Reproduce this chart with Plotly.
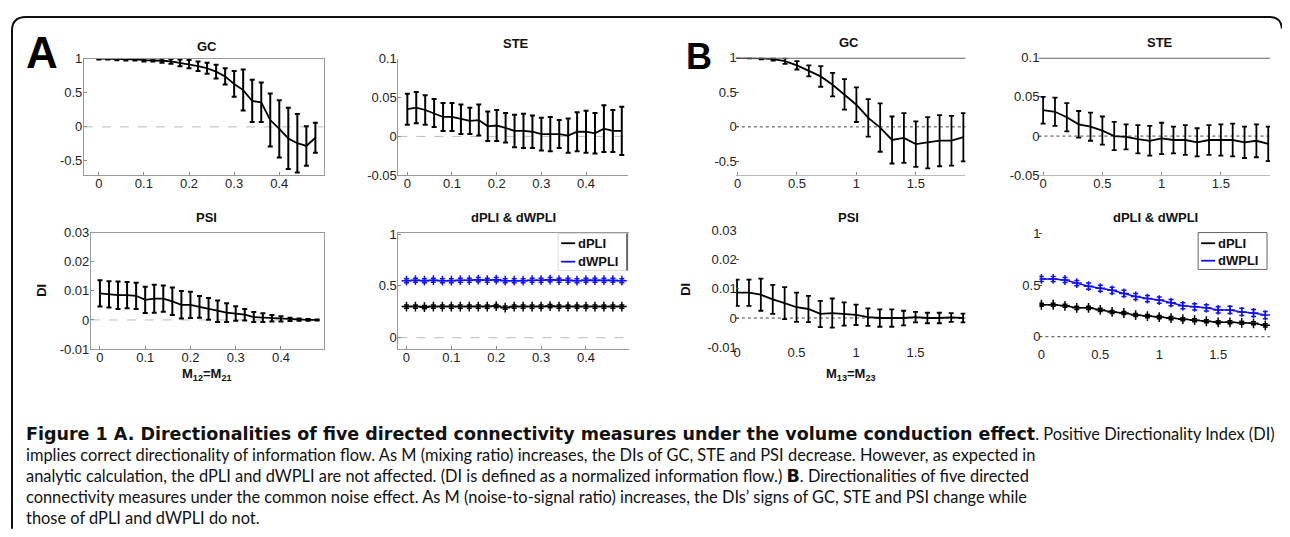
import plotly.graph_objects as go

# ---------------- data ----------------
xA = [0, 0.02, 0.04, 0.06, 0.08, 0.10, 0.12, 0.14, 0.16, 0.18, 0.20, 0.22, 0.24,
      0.26, 0.28, 0.30, 0.32, 0.34, 0.36, 0.38, 0.40, 0.42, 0.44, 0.46, 0.48]
xB = [0, 0.1, 0.2, 0.3, 0.4, 0.5, 0.6, 0.7, 0.8, 0.9, 1.0, 1.1, 1.2, 1.3, 1.4,
      1.5, 1.6, 1.7, 1.8, 1.9]

gcA = [1.0, 1.0, 0.99, 0.99, 0.99, 0.98, 0.98, 0.97, 0.96, 0.94, 0.92, 0.89, 0.86,
       0.81, 0.74, 0.63, 0.54, 0.38, 0.36, 0.10, -0.03, -0.17, -0.24, -0.28, -0.16]
gcA_err = [0.01, 0.01, 0.012, 0.015, 0.015, 0.02, 0.02, 0.03, 0.035, 0.05, 0.06, 0.07,
           0.08, 0.10, 0.12, 0.19, 0.30, 0.31, 0.29, 0.39, 0.42, 0.45, 0.43, 0.29, 0.22]

steA = [0.035, 0.037, 0.034, 0.030, 0.025, 0.025, 0.022, 0.020, 0.021, 0.013, 0.014,
        0.011, 0.007, 0.007, 0.006, 0.003, 0.003, 0.003, 0.001, 0.006, 0.006, 0.004,
        0.010, 0.007, 0.007]
steA_err = [0.020, 0.020, 0.019, 0.018, 0.018, 0.018, 0.019, 0.017, 0.020, 0.019, 0.020,
            0.019, 0.021, 0.022, 0.021, 0.021, 0.022, 0.018, 0.022, 0.025, 0.027, 0.026,
            0.030, 0.027, 0.031]

psiA = [0.0091, 0.0088, 0.0085, 0.0085, 0.0083, 0.0069, 0.0073, 0.0073, 0.0064, 0.0052,
        0.0052, 0.0045, 0.0038, 0.0030, 0.0025, 0.0022, 0.0018, 0.0010, 0.0008, 0.0006,
        0.0004, 0.0002, 0.0001, 0.0, 0.0]
psiA_err = [0.0045, 0.0045, 0.0047, 0.0045, 0.0045, 0.0045, 0.0048, 0.0045, 0.0047,
            0.0047, 0.0045, 0.0037, 0.0037, 0.0037, 0.0032, 0.0025, 0.0020, 0.0017,
            0.0015, 0.0011, 0.0009, 0.0006, 0.0004, 0.0003, 0.0002]

dpliA = [0.30, 0.30, 0.295, 0.30, 0.30, 0.30, 0.30, 0.30, 0.30, 0.30, 0.305, 0.29, 0.30,
         0.30, 0.30, 0.30, 0.305, 0.30, 0.30, 0.30, 0.30, 0.30, 0.30, 0.30, 0.30]
dpliA_err = [0.015] * 25
dwpliA = [0.55, 0.555, 0.55, 0.555, 0.55, 0.55, 0.555, 0.555, 0.56, 0.555, 0.56, 0.55,
          0.55, 0.55, 0.555, 0.555, 0.56, 0.555, 0.555, 0.55, 0.555, 0.555, 0.555,
          0.555, 0.55]
dwpliA_err = [0.02] * 25

gcB = [1.0, 1.0, 0.99, 0.98, 0.95, 0.89, 0.81, 0.73, 0.61, 0.47, 0.32, 0.13, -0.01,
       -0.19, -0.16, -0.25, -0.23, -0.20, -0.20, -0.15]
gcB_err = [0.005, 0.01, 0.015, 0.02, 0.04, 0.06, 0.08, 0.15, 0.17, 0.22, 0.25, 0.27,
           0.35, 0.34, 0.36, 0.33, 0.37, 0.37, 0.36, 0.35]

steB = [0.033, 0.031, 0.024, 0.015, 0.012, 0.007, 0.000, -0.001, -0.004, -0.006, -0.003,
        -0.005, -0.005, -0.008, -0.005, -0.005, -0.005, -0.008, -0.006, -0.010]
steB_err = [0.017, 0.018, 0.018, 0.017, 0.018, 0.018, 0.018, 0.016, 0.018, 0.019, 0.020,
            0.017, 0.019, 0.018, 0.019, 0.020, 0.021, 0.020, 0.021, 0.022]

psiB = [0.0087, 0.0087, 0.0080, 0.0064, 0.0051, 0.0037, 0.0031, 0.0014, 0.0017, 0.0014,
        0.0011, 0.0003, 0.0, 0.0, 0.0, 0.0003, 0.0, 0.0, 0.0002, 0.0]
psiB_err = [0.0045, 0.0045, 0.0055, 0.0050, 0.0055, 0.0050, 0.0045, 0.0045, 0.0050,
            0.0040, 0.0035, 0.0030, 0.0030, 0.0030, 0.0025, 0.0018, 0.0018, 0.0018,
            0.0015, 0.0015]

dpliB = [0.31, 0.31, 0.30, 0.28, 0.28, 0.26, 0.24, 0.23, 0.21, 0.20, 0.19, 0.18, 0.17,
         0.16, 0.15, 0.14, 0.14, 0.135, 0.13, 0.11]
dpliB_err = [0.015] * 20
dwpliB = [0.56, 0.56, 0.55, 0.52, 0.49, 0.47, 0.45, 0.42, 0.39, 0.37, 0.355, 0.33, 0.30,
          0.29, 0.28, 0.26, 0.26, 0.24, 0.23, 0.21]
dwpliB_err = [0.025, 0.025, 0.025, 0.025, 0.03, 0.03, 0.03, 0.03, 0.03, 0.03, 0.03, 0.03,
              0.03, 0.03, 0.03, 0.03, 0.035, 0.035, 0.035, 0.035]

xticksA = [0, 0.1, 0.2, 0.3, 0.4]
xticksA_text = ["0", "0.1", "0.2", "0.3", "0.4"]
xticksB = [0, 0.5, 1, 1.5]
xticksB_text = ["0", "0.5", "1", "1.5"]
yticks_gc = [-0.5, 0, 0.5, 1]
yticks_gc_text = ["-0.5", "0", "0.5", "1"]
yticks_ste = [-0.05, 0, 0.05, 0.1]
yticks_ste_text = ["-0.05", "0", "0.05", "0.1"]
yticks_psi = [-0.01, 0, 0.01, 0.02, 0.03]
yticks_psi_text = ["-0.01", "0", "0.01", "0.02", "0.03"]
yticks_pli = [0, 0.5, 1]
yticks_pli_text = ["0", "0.5", "1"]

# ---------------- layout helpers ----------------
# the page body has an 8px margin; the figure is sized so the page is exactly 1290x537
OFF = 8
W, H = 1290 - 2 * OFF, 537 - 2 * OFF
def PX(v): return (v - OFF) / W
def PY(v): return 1 - (v - OFF) / H
def sfx(i): return "" if i == 1 else str(i)

FONT = "Liberation Sans, Arial, sans-serif"
fig = go.Figure()

axes = [
    dict(dom=(82, 322, 53, 173), xr=(-0.033, 0.498), yr=(-0.71, 1.0),
         xt=(xticksA, xticksA_text), yt=(yticks_gc, yticks_gc_text), style="Abox"),
    dict(dom=(397, 627, 53, 173), xr=(-0.02, 0.494), yr=(-0.05, 0.1),
         xt=(xticksA, xticksA_text), yt=(yticks_ste, yticks_ste_text), style="Alb"),
    dict(dom=(89, 322, 232, 352), xr=(-0.02, 0.494), yr=(-0.01, 0.03),
         xt=(xticksA, xticksA_text), yt=(yticks_psi, yticks_psi_text), style="Abox"),
    dict(dom=(397, 628, 232, 352), xr=(-0.018, 0.496), yr=(-0.11, 1.015),
         xt=(xticksA, xticksA_text), yt=(yticks_pli, yticks_pli_text), style="Albt"),
    dict(dom=(735, 965, 52, 173), xr=(-0.014, 1.918), yr=(-0.70, 1.0),
         xt=(xticksB, xticksB_text), yt=(yticks_gc, yticks_gc_text), style="Btop"),
    dict(dom=(1038, 1270, 52, 173), xr=(-0.04, 1.915), yr=(-0.05, 0.1),
         xt=(xticksB, xticksB_text), yt=(yticks_ste, yticks_ste_text), style="Btop"),
    dict(dom=(735, 965, 230, 350), xr=(-0.01, 1.92), yr=(-0.01, 0.03),
         xt=(xticksB, xticksB_text), yt=(yticks_psi, yticks_psi_text), style="Bnone"),
    dict(dom=(1039, 1270, 232, 352), xr=(-0.017, 1.94), yr=(-0.12, 1.01),
         xt=(xticksB, xticksB_text), yt=(yticks_pli, yticks_pli_text), style="Bnone"),
]

shapes = []
for i, a in enumerate(axes, start=1):
    l, r, t, b = a["dom"]
    st = a["style"]
    s = sfx(i)
    xa = dict(domain=[PX(l), PX(r)], range=list(a["xr"]), anchor=f"y{s}",
              tickvals=a["xt"][0], ticktext=a["xt"][1], showgrid=False, zeroline=False,
              ticks="inside", ticklen=3, tickcolor="#888", ticklabelstandoff=-4,
              tickfont=dict(family=FONT, size=13, color="#222"), fixedrange=True)
    ya = dict(domain=[PY(b), PY(t)], range=list(a["yr"]), anchor=f"x{s}",
              tickvals=a["yt"][0], ticktext=a["yt"][1], showgrid=False, zeroline=False,
              ticks="inside", ticklen=3, tickcolor="#888", ticklabelstandoff=-2,
              tickfont=dict(family=FONT, size=13, color="#222"), fixedrange=True)
    if st == "Abox":
        xa.update(showline=True, linecolor="#999", linewidth=1, mirror=True)
        ya.update(showline=True, linecolor="#999", linewidth=1, mirror=True)
    elif st == "Alb":
        xa.update(showline=True, linecolor="#999", linewidth=1)
        ya.update(showline=True, linecolor="#999", linewidth=1)
    elif st == "Albt":
        xa.update(showline=True, linecolor="#999", linewidth=1, mirror=True)
        ya.update(showline=True, linecolor="#999", linewidth=1)
    elif st == "Btop":
        xa.update(showline=True, linecolor="#bbb", linewidth=1)
        ya.update(showline=False, ticks="inside", tickcolor="#555")
        shapes.append(dict(type="line", xref=f"x{s} domain", x0=0, x1=1,
                           yref=f"y{s}", y0=a["yr"][1], y1=a["yr"][1],
                           line=dict(color="#666", width=2)))
    else:
        xa.update(showline=False, ticks="")
        ya.update(showline=False, ticks="inside", tickcolor="#555")
    fig.layout[f"xaxis{s}"] = xa
    fig.layout[f"yaxis{s}"] = ya
    if st.startswith("A"):
        shapes.append(dict(type="line", xref=f"x{s} domain", x0=0, x1=1,
                           yref=f"y{s}", y0=0, y1=0,
                           line=dict(color="#bbb", width=1, dash="dash"), layer="below"))
    else:
        shapes.append(dict(type="line", xref=f"x{s} domain", x0=0, x1=1,
                           yref=f"y{s}", y0=0, y1=0,
                           line=dict(color="#444", width=1, dash="dot"), layer="below"))


def add_series(i, x, y, e, color="black", marker=False, thick=2.0, lw=1.8):
    s = sfx(i)
    fig.add_trace(go.Scatter(
        x=x, y=y, xaxis=f"x{s}", yaxis=f"y{s}",
        mode="lines+markers" if marker else "lines",
        line=dict(color=color, width=lw),
        marker=dict(symbol="cross-thin", size=7, line=dict(color=color, width=1.5)) if marker else None,
        error_y=dict(type="data", array=e, visible=True, color=color,
                     thickness=thick, width=2.5),
        showlegend=False, hoverinfo="skip"))


add_series(1, xA, gcA, gcA_err)
add_series(2, xA, steA, steA_err)
add_series(3, xA, psiA, psiA_err)
add_series(4, xA, dpliA, dpliA_err, "black", True, 1.5, 1.5)
add_series(4, xA, dwpliA, dwpliA_err, "#1010ff", True, 1.5, 1.5)
add_series(5, xB, gcB, gcB_err, thick=1.8)
add_series(6, xB, steB, steB_err, thick=1.8)
add_series(7, xB, psiB, psiB_err, thick=1.8)
add_series(8, xB, dpliB, dpliB_err, "black", True, 1.5, 1.5)
add_series(8, xB, dwpliB, dwpliB_err, "#1010ff", True, 1.5, 1.5)

ann = []
def text(x, y, s, size=13, xanchor="center", yanchor="middle", angle=0,
         family=FONT, color="#111"):
    ann.append(dict(x=PX(x), y=PY(y), xref="paper", yref="paper", text=s,
                    showarrow=False, xanchor=xanchor, yanchor=yanchor, textangle=angle,
                    font=dict(family=family, size=size, color=color)))

for (x, y, s) in [(205, 40, "GC"), (515, 37, "STE"), (205, 216, "PSI"),
                  (512, 216, "dPLI &amp; dWPLI"), (848, 36, "GC"), (1160, 36, "STE"),
                  (848, 216, "PSI"), (1155, 216, "dPLI &amp; dWPLI")]:
    text(x, y, f"<b>{s}</b>", size=13)

text(40, 47, "<b>A</b>", size=44, color="#000")
text(698, 51, "<b>B</b>", size=36, color="#000")

text(40, 291, "<b>DI</b>", size=13, angle=-90)
text(205, 378, "<b>M<sub>12</sub>=M<sub>21</sub></b>", size=13)
text(685, 290, "<b>DI</b>", size=13, angle=-90)
text(850, 378, "<b>M<sub>13</sub>=M<sub>23</sub></b>", size=13)

shapes.append(dict(type="rect", xref="paper", yref="paper", x0=PX(557), x1=PX(627),
                   y0=PY(271), y1=PY(233), line=dict(color="#ddd", width=1),
                   fillcolor="white"))
shapes.append(dict(type="line", xref="paper", yref="paper", x0=PX(626), x1=PX(626),
                   y0=PY(271), y1=PY(233), line=dict(color="#444", width=1.5)))
shapes.append(dict(type="rect", xref="paper", yref="paper", x0=PX(1198), x1=PX(1267),
                   y0=PY(270), y1=PY(232), line=dict(color="#666", width=1),
                   fillcolor="white"))
for (lx, ly, lab, col) in [(560, 243, "dPLI", "black"), (560, 262, "dWPLI", "#1010ff"),
                           (1201, 243, "dPLI", "black"), (1201, 261, "dWPLI", "#1010ff")]:
    shapes.append(dict(type="line", xref="paper", yref="paper", x0=PX(lx), x1=PX(lx + 14),
                       y0=PY(ly), y1=PY(ly), line=dict(color=col, width=1.8)))
    text(lx + 15, ly, f"<b>{lab}</b>", size=13, xanchor="left")

path = (f"M {PX(10)},{PY(537)} L {PX(10)},{PY(24)} Q {PX(10)},{PY(10)} {PX(24)},{PY(10)} "
        f"L {PX(1270)},{PY(10)} Q {PX(1281)},{PY(10)} {PX(1282)},{PY(22)}")
shapes.append(dict(type="path", xref="paper", yref="paper", path=path,
                   line=dict(color="#111", width=2)))

CAP = "Lato, Open Sans, sans-serif"
CAP_SIZE = 16.4
BOLD = '<span style="font-family:DejaVu Sans;font-weight:bold;font-size:17.5px">'
Y0, DY = 439, 21.7
cap_lines = [
    BOLD + "Figure 1 A. Directionalities of five directed connectivity measures under the volume conduction effect</span>. Positive Directionality Index (DI)",
    None,
    "analytic calculation, the dPLI and dWPLI are not affected. (DI is defined as a normalized information flow.) " + BOLD + "B</span>. Directionalities of five directed",
    "connectivity measures under the common noise effect. <span>As M (noise-to-signal ratio) increases, the DIs’ signs of GC, STE and PSI change while</span>",
    "those of dPLI and dWPLI do not.",
]
for k, s in enumerate(cap_lines):
    if s is None:
        continue
    text(22, Y0 + k * DY, s, size=CAP_SIZE, xanchor="left", family=CAP, color="#111")
# line 2 in two pieces (left part anchored at the left margin, right part ending at its line end)
text(22, Y0 + DY, "implies correct directionality of information flow. As M (mixing ratio) increases, the DIs of GC, STE and PSI",
     size=CAP_SIZE, xanchor="left", family=CAP, color="#111")
text(1037, Y0 + DY, "decrease. However, as expected in",
     size=CAP_SIZE, xanchor="right", family=CAP, color="#111")

fig.update_layout(width=W, height=H, margin=dict(l=0, r=0, t=0, b=0),
                  paper_bgcolor="white", plot_bgcolor="white",
                  shapes=shapes, annotations=ann, showlegend=False)
fig.write_html("out.html")
